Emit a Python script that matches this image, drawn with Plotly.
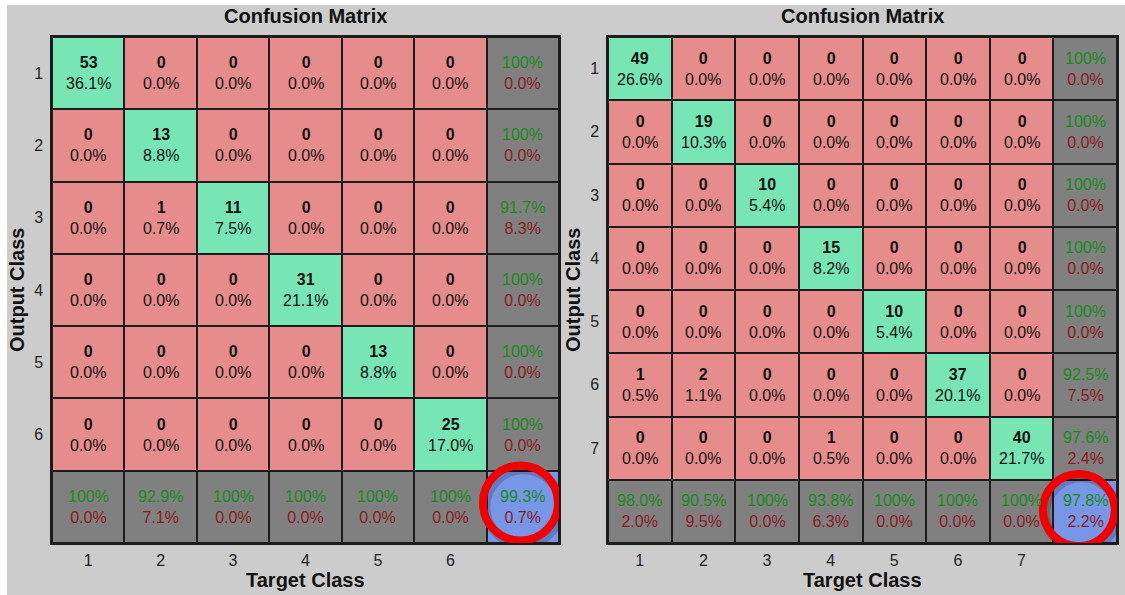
import plotly.graph_objects as go
from decimal import Decimal, ROUND_HALF_UP

# Class labels and confusion counts (rows = output class, cols = target class)
classes_a = ["1", "2", "3", "4", "5", "6"]
counts_a = [
    [53, 0, 0, 0, 0, 0],
    [0, 13, 0, 0, 0, 0],
    [0, 1, 11, 0, 0, 0],
    [0, 0, 0, 31, 0, 0],
    [0, 0, 0, 0, 13, 0],
    [0, 0, 0, 0, 0, 25],
]

classes_b = ["1", "2", "3", "4", "5", "6", "7"]
counts_b = [
    [49, 0, 0, 0, 0, 0, 0],
    [0, 19, 0, 0, 0, 0, 0],
    [0, 0, 10, 0, 0, 0, 0],
    [0, 0, 0, 15, 0, 0, 0],
    [0, 0, 0, 0, 10, 0, 0],
    [1, 2, 0, 0, 0, 37, 0],
    [0, 0, 0, 1, 0, 0, 40],
]

W, H = 1125, 595
FONT = "Liberation Sans, Arial, Helvetica, sans-serif"
RED, GREEN, GRAY, BLUE = "#E68C8C", "#78E6B4", "#808080", "#7896E6"
TXT_GOOD, TXT_BAD = "#1a8a1a", "#8c1a24"
LINE = "#1c1c1c"

colorscale = [
    [0.0, RED], [0.25, RED],
    [0.25, GREEN], [0.5, GREEN],
    [0.5, GRAY], [0.75, GRAY],
    [0.75, BLUE], [1.0, BLUE],
]


def pct(num, den):
    if num == den:
        return "100%"
    v = Decimal(100 * num) / Decimal(den)
    return f"{v.quantize(Decimal('0.1'), rounding=ROUND_HALF_UP)}%"


def summary(good, den):
    return (f"<span style='color:{TXT_GOOD}'>{pct(good, den)}</span><br>"
            f"<span style='color:{TXT_BAD}'>{pct(den - good, den)}</span>")


def build(counts):
    n = len(counts)
    total = sum(sum(r) for r in counts)
    z, cells = [], []
    for i in range(n + 1):
        zrow = []
        for j in range(n + 1):
            if i < n and j < n:
                zrow.append(1 if i == j else 0)
                c = counts[i][j]
                cells.append((j, i, f"<b>{c}</b><br>{pct(c, total)}"))
            elif i < n:
                zrow.append(2)
                cells.append((j, i, summary(counts[i][i], sum(counts[i]))))
            elif j < n:
                zrow.append(2)
                col = sum(counts[k][j] for k in range(n))
                cells.append((j, i, summary(counts[j][j], col)))
            else:
                zrow.append(3)
                cells.append((j, i, summary(sum(counts[k][k] for k in range(n)), total)))
        z.append(zrow)
    return z, cells


fig = go.Figure()

panels = [
    dict(counts=counts_a, labels=classes_a, xa="x", ya="y", xdom=(52, 559),
         circ=(5.968, 5.946, 0.518, 0.519)),
    dict(counts=counts_b, labels=classes_b, xa="x2", ya="y2", xdom=(608, 1117),
         circ=(6.90, 6.98, 0.565, 0.57)),
]
ydom = (1 - 543 / H, 1 - 37 / H)

annotations = []
# white margin strips along the left and top edges
shapes = [
    dict(type="rect", xref="paper", yref="paper", x0=0, x1=7 / W, y0=0, y1=1,
         fillcolor="white", line=dict(width=0), layer="below"),
    dict(type="rect", xref="paper", yref="paper", x0=0, x1=1, y0=1 - 5 / H, y1=1,
         fillcolor="white", line=dict(width=0), layer="below"),
]

for k, p in enumerate(panels):
    n = len(p["counts"])
    z, cells = build(p["counts"])
    fig.add_trace(go.Heatmap(
        z=z, x=list(range(n + 1)), y=list(range(n + 1)),
        colorscale=colorscale, zmin=0, zmax=3, showscale=False,
        xgap=2, ygap=2, hoverinfo="skip", xaxis=p["xa"], yaxis=p["ya"],
    ))
    for (cx, cy, t) in cells:
        annotations.append(dict(x=cx, y=cy, xref=p["xa"], yref=p["ya"], text=t,
                                showarrow=False, font=dict(family=FONT, size=16, color="#111")))
    sfx = "" if k == 0 else str(k + 1)
    axis_common = dict(showgrid=False, zeroline=False, showline=True, mirror=True,
                       linecolor=LINE, linewidth=1.5, ticks="",
                       tickfont=dict(family=FONT, size=16, color="#222"))
    fig.update_layout(**{
        "xaxis" + sfx: dict(domain=[p["xdom"][0] / W, p["xdom"][1] / W],
                            range=[-0.5, n + 0.5], anchor="y" + sfx,
                            tickvals=list(range(n)), ticktext=p["labels"],
                            ticklabelstandoff=2, **axis_common),
        "yaxis" + sfx: dict(domain=list(ydom), range=[n + 0.5, -0.5], anchor="x" + sfx,
                            tickvals=list(range(n)), ticktext=p["labels"],
                            ticklabelstandoff=4, **axis_common),
    })
    xc = (p["xdom"][0] + p["xdom"][1]) / 2 / W
    title_font = dict(family=FONT, size=20, color="#111")
    annotations.append(dict(x=xc, y=1 - 16 / H, xref="paper", yref="paper",
                            xanchor="center", yanchor="middle",
                            text="<b>Confusion Matrix</b>", showarrow=False, font=title_font))
    annotations.append(dict(x=xc, y=1 - 580 / H, xref="paper", yref="paper",
                            xanchor="center", yanchor="middle",
                            text="<b>Target Class</b>", showarrow=False, font=title_font))
    annotations.append(dict(x=(p["xdom"][0] - 35) / W, y=(ydom[0] + ydom[1]) / 2,
                            xref="paper", yref="paper", xanchor="center", yanchor="middle",
                            text="<b>Output Class</b>", textangle=-90, showarrow=False,
                            font=title_font))
    # highlight ring around the overall accuracy cell
    cx, cy, rx, ry = p["circ"]
    shapes.append(dict(type="circle", xref=p["xa"], yref=p["ya"],
                       x0=cx - rx + 0.04, x1=cx + rx + 0.04, y0=cy - ry + 0.06, y1=cy + ry + 0.06,
                       line=dict(color="rgba(0,0,0,0.18)", width=9)))
    shapes.append(dict(type="circle", xref=p["xa"], yref=p["ya"],
                       x0=cx - rx, x1=cx + rx, y0=cy - ry, y1=cy + ry,
                       line=dict(color="#F00000", width=8)))

fig.update_layout(
    width=W, height=H, margin=dict(l=0, r=0, t=0, b=0),
    paper_bgcolor="#CCCCCC", plot_bgcolor=LINE,
    annotations=annotations, shapes=shapes, showlegend=False,
)

fig.write_html("out.html")
